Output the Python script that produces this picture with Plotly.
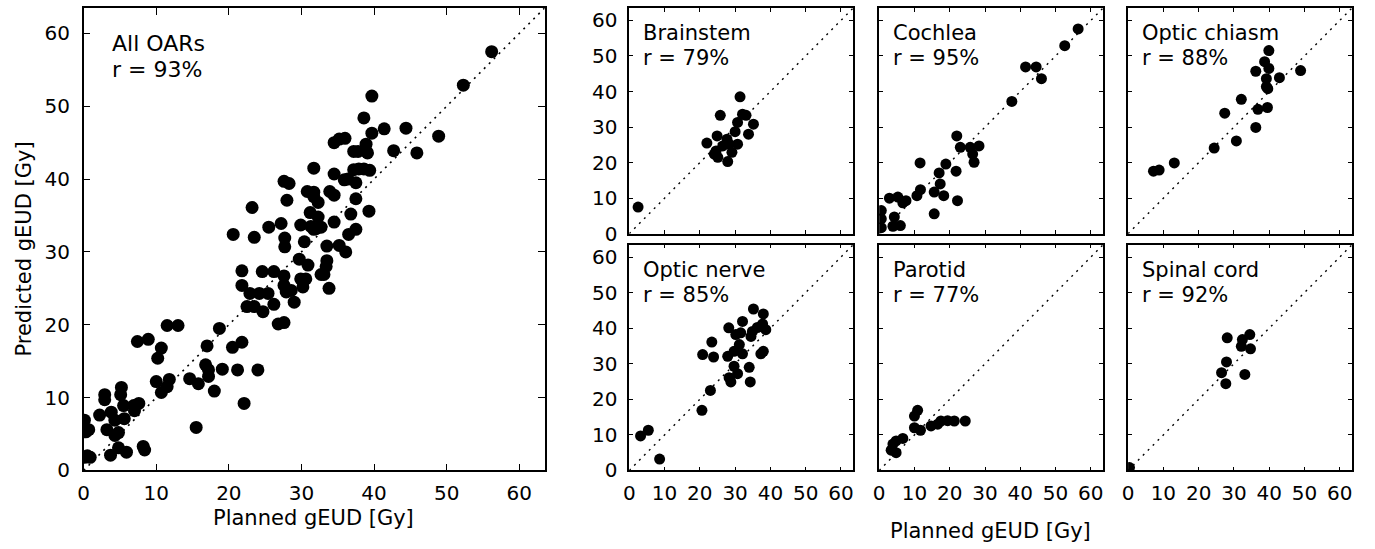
import plotly.graph_objects as go

# ---------------- data ----------------
all_x = [56.2, 52.3, 39.7, 38.6, 39.7, 41.4, 44.4, 48.9, 34.5, 35.2, 36.0, 38.9, 38.9, 37.2, 37.8,
         39.1, 42.7, 45.9, 31.7, 37.2, 37.9, 38.6, 39.4, 34.5, 35.9, 36.4, 37.5, 30.8, 31.7, 32.3,
         33.9, 34.5, 37.5, 31.2, 32.3, 31.3, 32.0, 32.7, 34.5, 36.8, 39.3, 36.5, 37.5, 29.9,
         27.6, 28.3, 28.0, 31.7, 23.2, 27.2, 25.5, 20.6, 23.5, 31.7,
         27.7, 27.7, 30.4, 29.7, 30.9, 21.8, 24.6, 26.2, 27.6, 29.9, 30.6, 32.7, 21.8, 22.9, 24.2,
         25.4, 27.6, 27.9, 28.6, 30.2, 22.5, 23.5, 24.7, 26.2, 29.0, 26.8, 27.6, 11.5, 13.0, 18.7,
         7.4, 8.9, 10.7, 10.2, 17.0, 20.5, 21.8, 16.8, 17.2, 17.2, 19.1, 21.2, 24.0, 14.6, 15.8,
         18.0, 10.0, 11.8, 11.5, 10.7, 22.1, 15.5, 5.2, 5.1, 2.9, 2.9, 5.5, 6.9, 7.6, 7.0, 2.2,
         3.8, 4.3, 5.6, 0.1, 0.7, 3.2, 4.3, 4.8, 4.8, 5.9, 3.7, 8.2, 8.4, 0.1, 0.9, 0.3, 0.5,
         33.5, 35.2, 36.1, 33.5, 33.4, 33.1, 33.8]
all_y = [57.5, 52.9, 51.4, 48.4, 46.3, 46.9, 47.0, 45.9, 45.0, 45.5, 45.6, 44.8, 43.8, 43.8, 43.8,
         43.6, 43.9, 43.6, 41.5, 41.3, 41.4, 41.4, 41.2, 40.7, 39.9, 40.0, 39.5, 38.3, 38.2, 36.8,
         38.3, 37.8, 37.3, 35.4, 34.8, 33.5, 33.2, 33.4, 34.1, 35.2, 35.6, 32.4, 33.1, 33.7,
         39.7, 39.4, 37.1, 37.6, 36.1, 33.9, 33.4, 32.4, 32.0, 33.1,
         31.9, 30.7, 31.4, 29.0, 28.2, 27.4, 27.3, 27.3, 26.7, 26.3, 26.3, 26.9, 25.4, 24.3, 24.3,
         24.3, 25.4, 24.5, 24.7, 25.2, 22.5, 22.5, 21.8, 22.8, 23.1, 20.1, 20.3, 19.9, 19.9, 19.5,
         17.7, 18.0, 16.8, 15.4, 17.1, 16.9, 17.6, 14.5, 13.8, 12.9, 13.9, 13.8, 13.8, 12.6, 11.9,
         10.9, 12.2, 12.5, 11.5, 10.7, 9.2, 5.9, 11.4, 10.4, 10.4, 9.7, 8.9, 8.9, 9.2, 8.2, 7.6,
         8.0, 6.9, 7.1, 6.9, 5.6, 5.6, 4.8, 5.2, 3.1, 2.5, 2.1, 3.3, 2.8, 1.8, 1.8, 5.3, 2.0,
         30.8, 30.9, 30.0, 28.8, 28.0, 26.9, 25.0]

brainstem_x = [2.5, 31.4, 25.8, 32.1, 33.1, 30.7, 35.2, 33.8, 30.0, 24.9, 27.7, 22.0, 26.5, 28.3,
               30.7, 24.6, 24.1, 25.1, 29.1, 27.9]
brainstem_y = [7.5, 38.5, 33.3, 33.6, 33.3, 31.3, 30.8, 28.0, 28.7, 27.5, 26.6, 25.5, 24.7, 25.2,
               25.2, 23.3, 22.4, 21.5, 22.9, 20.3]

cochlea_x = [56.4, 52.6, 41.5, 44.5, 46.0, 37.6, 22.0, 23.0, 25.8, 28.3, 26.5, 26.9, 11.6, 18.9,
             17.0, 21.8, 17.3, 11.7, 10.7, 15.6, 18.3, 22.2, 15.6, 2.9, 5.3, 6.7, 7.6, 0.6, 0.6,
             4.3, 6.0, 3.9, 0.6]
cochlea_y = [57.6, 52.9, 46.9, 46.9, 43.6, 37.2, 27.5, 24.3, 24.3, 24.7, 22.4, 20.1, 19.9, 19.6,
             17.1, 17.6, 14.0, 12.4, 10.7, 11.7, 10.7, 9.3, 5.6, 10.0, 10.3, 8.7, 9.3, 6.5, 4.2,
             4.7, 2.3, 2.1, 1.7]

chiasm_x = [39.9, 38.7, 39.9, 36.2, 42.9, 48.9, 39.2, 39.2, 39.6, 32.1, 27.4, 36.8, 39.5, 36.2,
            30.7, 24.4, 13.1, 7.2, 8.8]
chiasm_y = [51.5, 48.4, 46.5, 45.7, 43.9, 45.9, 43.6, 41.4, 40.8, 37.8, 33.9, 35.0, 35.5, 29.9,
            26.1, 24.1, 19.9, 17.6, 17.9]

nerve_x = [35.2, 38.0, 32.1, 37.8, 38.7, 36.3, 34.9, 34.5, 28.2, 30.2, 31.6, 31.2, 23.4, 20.8,
           23.9, 27.9, 29.7, 32.1, 37.3, 38.0, 29.7, 34.0, 30.7, 28.3, 28.8, 34.3, 23.0, 20.6,
           3.2, 5.4, 8.6]
nerve_y = [45.4, 44.0, 41.9, 41.2, 39.6, 40.2, 39.1, 37.7, 40.1, 38.2, 38.7, 35.4, 36.1, 32.6,
           31.9, 32.1, 33.5, 32.8, 32.8, 33.5, 29.3, 29.0, 27.2, 26.1, 24.9, 24.9, 22.5, 16.9,
           9.7, 11.3, 3.2]

parotid_x = [10.9, 10.0, 10.0, 11.7, 14.7, 16.6, 17.5, 19.4, 21.3, 24.4, 6.7, 4.8, 3.9, 3.4, 4.8]
parotid_y = [16.9, 15.3, 12.0, 11.3, 12.5, 13.0, 13.9, 14.0, 13.9, 13.9, 9.0, 8.3, 7.4, 5.7, 5.0]

spinal_x = [28.1, 34.5, 32.4, 32.1, 34.7, 27.9, 26.5, 33.1, 27.7, 0.4]
spinal_y = [37.3, 38.2, 36.8, 34.9, 34.2, 30.5, 27.5, 27.0, 24.4, 0.8]

organ_names = ["Brainstem", "Cochlea", "Optic chiasm", "Optic nerve", "Parotid", "Spinal cord"]
organ_r = ["r = 79%", "r = 95%", "r = 88%", "r = 85%", "r = 77%", "r = 92%"]
organ_x = [brainstem_x, cochlea_x, chiasm_x, nerve_x, parotid_x, spinal_x]
organ_y = [brainstem_y, cochlea_y, chiasm_y, nerve_y, parotid_y, spinal_y]

tick_vals = [0, 10, 20, 30, 40, 50, 60]
axis_max = 63.5
x_title = "Planned gEUD [Gy]"
y_title = "Predicted gEUD [Gy]"
main_name = "All OARs"
main_r = "r = 93%"

# ---------------- layout helpers ----------------
W, H = 1375, 549          # reference frame used for positions
FIG_H = 558               # rendered height
FONT = "DejaVu Sans"


def px(x):
    return x / W


def py(y):
    return 1 - y / H


fig = go.Figure()

main_dom_x = [px(78), px(541)]
main_dom_y = [py(473), py(8)]
col_px = [(626, 851), (877, 1102), (1127, 1352)]
row_px = [(8, 235), (246, 473)]


def axis_common(domain, anchor, show_labels, ticklen, standoff):
    return dict(domain=domain, anchor=anchor, range=[0, axis_max], tickvals=tick_vals,
                showticklabels=show_labels, ticks="inside", ticklen=ticklen, tickwidth=1,
                tickcolor="black", showline=True, linecolor="black", linewidth=1.6,
                mirror="ticks", showgrid=False, zeroline=False, ticklabelstandoff=standoff,
                tickfont=dict(family=FONT, size=20, color="black"))


layout = dict(width=W, height=FIG_H, margin=dict(l=0, r=0, t=0, b=0),
              plot_bgcolor="white", paper_bgcolor="white", showlegend=False)
layout["xaxis"] = axis_common(main_dom_x, "y", True, 7, 4)
layout["yaxis"] = axis_common(main_dom_y, "x", True, 7, 8)

annotations = []


def add_panel_text(n, l1, l2, xs, y1s, y2s, size):
    xr = "x domain" if n == 1 else f"x{n} domain"
    yr = "y domain" if n == 1 else f"y{n} domain"
    for txt, ys in ((l1, y1s), (l2, y2s)):
        annotations.append(dict(text=txt, xref=xr, yref=yr, x=0, y=1, xanchor="left",
                                yanchor="top", xshift=xs, yshift=ys, showarrow=False,
                                font=dict(family=FONT, size=size, color="black")))


# main scatter
fig.add_trace(go.Scatter(x=[0, axis_max + 5], y=[0, axis_max + 5], mode="lines",
                         line=dict(color="black", width=1.6, dash="2px,5px"),
                         xaxis="x", yaxis="y", hoverinfo="skip"))
fig.add_trace(go.Scatter(x=all_x, y=all_y, mode="markers",
                         marker=dict(color="black", size=13, line=dict(width=0)),
                         xaxis="x", yaxis="y"))
add_panel_text(1, main_name, main_r, 26, -21, -47, 22)

for i in range(6):
    n = i + 2
    r, c = divmod(i, 3)
    x0, x1 = col_px[c]
    y0, y1 = row_px[r]
    layout[f"xaxis{n}"] = axis_common([px(x0), px(x1)], f"y{n}", r == 1, 4, 4)
    layout[f"yaxis{n}"] = axis_common([py(y1), py(y0)], f"x{n}", c == 0, 4, 6)
    fig.add_trace(go.Scatter(x=[0, axis_max + 5], y=[0, axis_max + 5], mode="lines",
                             line=dict(color="black", width=1.4, dash="2px,5px"),
                             xaxis=f"x{n}", yaxis=f"y{n}", hoverinfo="skip"))
    fig.add_trace(go.Scatter(x=organ_x[i], y=organ_y[i], mode="markers",
                             marker=dict(color="black", size=11, line=dict(width=0)),
                             xaxis=f"x{n}", yaxis=f"y{n}"))
    add_panel_text(n, organ_names[i], organ_r[i], 12, -11, -36, 21)

# axis titles
annotations.append(dict(text=x_title, xref="paper", yref="paper", x=px(309), y=py(521),
                        xanchor="center", yanchor="middle", showarrow=False,
                        font=dict(family=FONT, size=21, color="black")))
annotations.append(dict(text=x_title, xref="paper", yref="paper", x=px(989), y=py(534),
                        xanchor="center", yanchor="middle", showarrow=False,
                        font=dict(family=FONT, size=21, color="black")))
annotations.append(dict(text=y_title, xref="paper", yref="paper", x=px(18), y=py(250),
                        xanchor="center", yanchor="middle", textangle=-90, showarrow=False,
                        font=dict(family=FONT, size=21, color="black")))

layout["annotations"] = annotations
fig.update_layout(**layout)

page_fix = (
    "document.documentElement.style.margin='0';"
    "document.body.style.margin='0';"
)
fig.write_html("out.html", config={"displayModeBar": False}, post_script=page_fix)
